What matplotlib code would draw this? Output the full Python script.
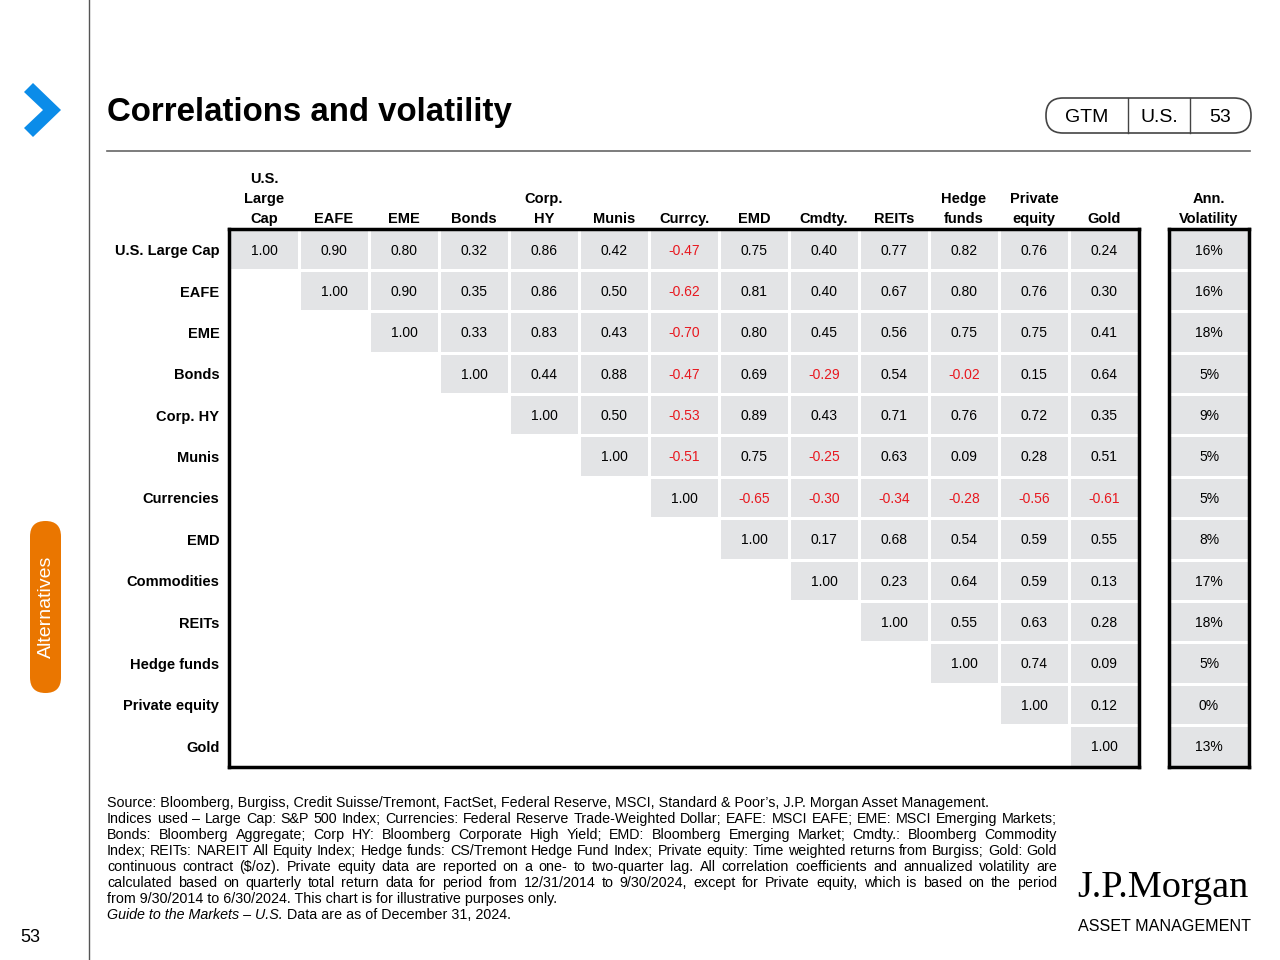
import matplotlib
matplotlib.use("Agg")
import matplotlib.pyplot as plt
from matplotlib import font_manager
from matplotlib.patches import Rectangle, FancyBboxPatch, Polygon

# ---- data -------------------------------------------------------------
row_labels = ["U.S. Large Cap", "EAFE", "EME", "Bonds", "Corp. HY", "Munis",
              "Currencies", "EMD", "Commodities", "REITs", "Hedge funds",
              "Private equity", "Gold"]
col_labels = ["U.S.\nLarge\nCap", "EAFE", "EME", "Bonds", "Corp.\nHY", "Munis",
              "Currcy.", "EMD", "Cmdty.", "REITs", "Hedge\nfunds",
              "Private\nequity", "Gold"]

# upper triangle, each row starts on the diagonal
corr_rows = [
    [1.00, 0.90, 0.80, 0.32, 0.86, 0.42, -0.47, 0.75, 0.40, 0.77, 0.82, 0.76, 0.24],
    [1.00, 0.90, 0.35, 0.86, 0.50, -0.62, 0.81, 0.40, 0.67, 0.80, 0.76, 0.30],
    [1.00, 0.33, 0.83, 0.43, -0.70, 0.80, 0.45, 0.56, 0.75, 0.75, 0.41],
    [1.00, 0.44, 0.88, -0.47, 0.69, -0.29, 0.54, -0.02, 0.15, 0.64],
    [1.00, 0.50, -0.53, 0.89, 0.43, 0.71, 0.76, 0.72, 0.35],
    [1.00, -0.51, 0.75, -0.25, 0.63, 0.09, 0.28, 0.51],
    [1.00, -0.65, -0.30, -0.34, -0.28, -0.56, -0.61],
    [1.00, 0.17, 0.68, 0.54, 0.59, 0.55],
    [1.00, 0.23, 0.64, 0.59, 0.13],
    [1.00, 0.55, 0.63, 0.28],
    [1.00, 0.74, 0.09],
    [1.00, 0.12],
    [1.00],
]
volatility = [16, 16, 18, 5, 9, 5, 5, 8, 17, 18, 5, 0, 13]

footnote = [
    "Source: Bloomberg, Burgiss, Credit Suisse/Tremont, FactSet, Federal Reserve, MSCI, Standard & Poor\u2019s, J.P. Morgan Asset Management.",
    "Indices used \u2013 Large Cap: S&P 500 Index; Currencies: Federal Reserve Trade-Weighted Dollar; EAFE: MSCI EAFE; EME: MSCI Emerging Markets;",
    "Bonds: Bloomberg Aggregate; Corp HY: Bloomberg Corporate High Yield; EMD: Bloomberg Emerging Market; Cmdty.: Bloomberg Commodity",
    "Index; REITs: NAREIT All Equity Index; Hedge funds: CS/Tremont Hedge Fund Index; Private equity: Time weighted returns from Burgiss; Gold: Gold",
    "continuous contract ($/oz). Private equity data are reported on a one- to two-quarter lag. All correlation coefficients and annualized volatility are",
    "calculated based on quarterly total return data for period from 12/31/2014 to 9/30/2024, except for Private equity, which is based on the period",
    "from 9/30/2014 to 6/30/2024. This chart is for illustrative purposes only.",
]
justify = [False, True, True, True, True, True, False]

# ---- style ------------------------------------------------------------
GRAY = "#e3e4e6"
RED = "#e8181f"
BLUE = "#0b8ce9"
ORANGE = "#ea7600"
plt.rcParams["font.family"] = ["Liberation Sans", "DejaVu Sans"]

installed = {f.name for f in font_manager.fontManager.ttflist}
NARROW = "Liberation Sans Narrow" if "Liberation Sans Narrow" in installed else "Liberation Sans"

W, H = 1280, 960
fig = plt.figure(figsize=(W / 100, H / 100), dpi=100)


def px_axes(x0, y0, x1, y1):
    """Axes placed by pixel box (top-left origin)."""
    return fig.add_axes([x0 / W, 1 - y1 / H, (x1 - x0) / W, (y1 - y0) / H])


bg = fig.add_axes([0, 0, 1, 1])
bg.set_xlim(0, W)
bg.set_ylim(H, 0)
bg.axis("off")

# page furniture
bg.plot([89, 89], [0, H], color="#555555", lw=1)
bg.plot([107, 1250], [151, 151], color="#666666", lw=1.2)
bg.add_patch(Polygon([(24, 92), (33, 83), (61, 110), (33, 137), (24, 128), (43, 110)],
                     closed=True, fc=BLUE, ec="none"))
bg.text(107, 112, "Correlations and volatility", fontsize=23.8, fontweight="bold",
        va="center", ha="left")

bg.add_patch(FancyBboxPatch((1046, 98), 205, 35, boxstyle="round,pad=0,rounding_size=17",
                            fc="white", ec="#444444", lw=1.2))
for xd in (1128, 1190):
    bg.plot([xd, xd], [98, 133], color="#444444", lw=1)
for xt, s in ((1087, "GTM"), (1159, "U.S."), (1220, "53")):
    bg.text(xt, 117, s, fontsize=14, ha="center", va="center")

bg.add_patch(FancyBboxPatch((30, 521), 31, 172, boxstyle="round,pad=0,rounding_size=15.5",
                            fc=ORANGE, ec="none"))
bg.text(46, 607, "Alternatives", rotation=90, color="white", fontsize=14,
        ha="center", va="center")
bg.text(30, 938, "53", fontsize=13, ha="center", va="center")

bg.text(1077, 897, "J.P.Morgan", family=["Liberation Serif", "DejaVu Serif"],
        fontsize=27.5, va="baseline")
logo_sub = bg.text(1078, 931, "ASSET MANAGEMENT", family=[NARROW, "DejaVu Sans"],
                   fontsize=13.5, va="baseline")

# ---- correlation matrix ---------------------------------------------
n = len(row_labels)
ax = px_axes(229, 229, 1139, 767)
ax.set_xlim(-0.5, n - 0.5)
ax.set_ylim(n - 0.5, -0.5)
gx, gy = 3 / 70, 3 / 41.4
for i, row in enumerate(corr_rows):
    for k, v in enumerate(row):
        j = i + k
        ax.add_patch(Rectangle((j - 0.5 + gx / 2, i - 0.5 + gy / 2), 1 - gx, 1 - gy,
                               fc=GRAY, ec="none"))
        ax.text(j, i + 0.02, f"{v:.2f}", ha="center", va="center", fontsize=10,
                color=RED if v < 0 else "black")

ax.xaxis.tick_top()
ax.set_xticks(range(n))
ax.set_xticklabels(col_labels, fontsize=10.5, fontweight="bold", linespacing=1.55)
ax.set_yticks(range(n))
ax.set_yticklabels(row_labels, fontsize=10.5, fontweight="bold")
ax.tick_params(length=0)
ax.tick_params(axis="x", pad=2)
ax.tick_params(axis="y", pad=7)
for sp in ax.spines.values():
    sp.set_linewidth(2.5)

# ---- volatility column ----------------------------------------------
av = px_axes(1169, 229, 1249, 767)
av.set_xlim(-0.5, 0.5)
av.set_ylim(n - 0.5, -0.5)
gxv = 3 / 80
for i, v in enumerate(volatility):
    av.add_patch(Rectangle((-0.5 + gxv / 2, i - 0.5 + gy / 2), 1 - gxv, 1 - gy,
                           fc=GRAY, ec="none"))
    av.text(0, i + 0.02, f"{v}%", ha="center", va="center", fontsize=10)
av.xaxis.tick_top()
av.set_xticks([0])
av.set_xticklabels(["Ann.\nVolatility"], fontsize=10.5, fontweight="bold", linespacing=1.55)
av.set_yticks([])
av.tick_params(length=0, pad=2)
for sp in av.spines.values():
    sp.set_linewidth(2.5)

# ---- footnote (justified like the source) ----------------------------
renderer = fig.canvas.get_renderer()

# keep the logo subtitle within its column
sw = logo_sub.get_window_extent(renderer).width
if sw > 172:
    logo_sub.set_fontsize(13.5 * 172 / sw)

FS = 10.3
x0, x1 = 107, 1057
for k, (line, just) in enumerate(zip(footnote, justify)):
    y = 807 + 16 * k
    if not just:
        bg.text(x0, y, line, fontsize=FS, va="baseline", parse_math=False)
        continue
    words = line.split(" ")
    texts = [bg.text(0, y, w, fontsize=FS, va="baseline", parse_math=False) for w in words]
    widths = [t.get_window_extent(renderer).width for t in texts]
    gap = max((x1 - x0 - sum(widths)) / (len(words) - 1), 2.0)
    x = x0
    for t, w in zip(texts, widths):
        t.set_x(x)
        x += w + gap

y = 807 + 16 * len(footnote)
t = bg.text(x0, y, "Guide to the Markets \u2013 U.S.", fontsize=FS, style="italic", va="baseline")
w = t.get_window_extent(renderer).width
bg.text(x0 + w, y, " Data are as of December 31, 2024.", fontsize=FS, va="baseline")

fig.savefig("out.png", dpi=100)
